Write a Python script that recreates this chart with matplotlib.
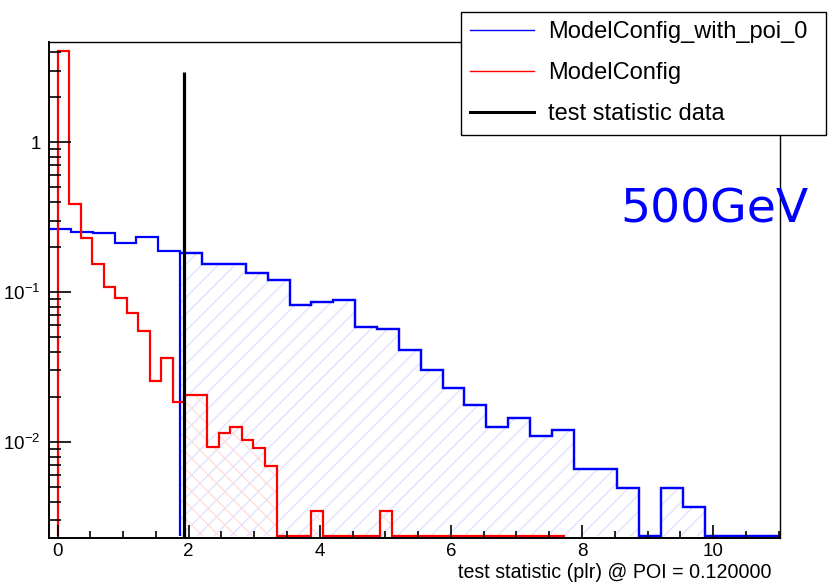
import numpy as np
import matplotlib
matplotlib.use("Agg")
import matplotlib.pyplot as plt
from matplotlib.lines import Line2D
from matplotlib.ticker import LogLocator, NullFormatter, MultipleLocator

plt.rcParams['font.family'] = ['Liberation Sans', 'DejaVu Sans']
plt.rcParams['mathtext.fontset'] = 'custom'
plt.rcParams['mathtext.rm'] = 'Liberation Sans'
plt.rcParams['mathtext.it'] = 'Liberation Sans:italic'
plt.rcParams['mathtext.bf'] = 'Liberation Sans:bold'
plt.rcParams['hatch.linewidth'] = 1.0

# sampling distribution under the alternate (poi = 0) model
alt_start, alt_width = -0.13, 0.3335
alt_counts = [0.262, 0.253, 0.249, 0.212, 0.234, 0.188, 0.183, 0.155, 0.155,
              0.135, 0.120, 0.0826, 0.086, 0.0892, 0.0585, 0.0567, 0.0408,
              0.0303, 0.0231, 0.0177, 0.0126, 0.0144, 0.0109, 0.0121, 0.0066,
              0.0066, 0.0049, 0, 0.0049, 0.0037, 0, 0, 0, 0]

# sampling distribution under the null model
null_start, null_width = 0.0, 0.1758
null_counts = [4.07, 0.39, 0.229, 0.153, 0.108, 0.0915, 0.0726, 0.0547, 0.0255,
               0.0366, 0.0184, 0.0206, 0.0206, 0.00927, 0.0114, 0.0125, 0.0103,
               0.00918, 0.0069, 0, 0, 0, 0.00344, 0, 0, 0, 0, 0, 0.00344,
               0, 0, 0, 0, 0, 0, 0, 0, 0, 0, 0, 0, 0, 0, 0]

# observed test statistic
data_value = 1.93
data_height = 2.95

labels = ['ModelConfig_with_poi_0', 'ModelConfig', 'test statistic data']
x_label = 'test statistic (plr) @ POI = 0.120000'
mass_label = '500GeV'

ymin, ymax = 0.0023, 4.66
floor = 0.00236  # empty bins are drawn along the bottom of the frame

alt = np.maximum(np.array(alt_counts), floor)
alt_edges = alt_start + alt_width * np.arange(len(alt_counts) + 1)
null = np.maximum(np.array(null_counts), floor)
null_edges = null_start + null_width * np.arange(len(null_counts) + 1)

# first bins inside the p-value regions
alt_cut = np.searchsorted(alt_edges, data_value) - 1
null_cut = np.searchsorted(null_edges, data_value)

fig = plt.figure(figsize=(8.31, 5.86), dpi=100)
ax = fig.add_axes([49 / 831, 48.3 / 586, 731 / 831, 495.7 / 586])

ax.stairs(alt[alt_cut:], alt_edges[alt_cut:], baseline=floor, fill=True,
          hatch='//', facecolor='none', edgecolor='#e2e2ff', linewidth=0)
ax.stairs(null[null_cut:], null_edges[null_cut:], baseline=floor, fill=True,
          hatch='\\\\', facecolor='none', edgecolor='#ffdede', linewidth=0)

ax.stairs(alt, alt_edges, baseline=None, color='blue', linewidth=1.6)
ax.stairs(alt[alt_cut:], alt_edges[alt_cut:], baseline=floor, color='blue',
          linewidth=1.6)
ax.stairs(null, null_edges, baseline=floor, color='red', linewidth=1.6)
ax.vlines(data_value, ymin, data_height, color='black', linewidth=2.3)

ax.set_yscale('log')
ax.set_xlim(-0.13, 11.02)
ax.set_ylim(ymin, ymax)

ax.set_yticks([0.01, 0.1, 1])
ax.set_yticklabels(['$10^{-2}$', '$10^{-1}$', '1'])
ax.yaxis.set_minor_locator(LogLocator(base=10, subs=np.arange(2, 10)))
ax.yaxis.set_minor_formatter(NullFormatter())
ax.set_xticks(np.arange(0, 11, 2))
ax.xaxis.set_minor_locator(MultipleLocator(0.5))

ax.tick_params(axis='both', which='both', direction='in', width=1.2,
               labelsize=13.5, top=False, right=False)
ax.tick_params(axis='y', which='major', length=15.8, pad=6)
ax.tick_params(axis='y', which='minor', length=8.6)
ax.tick_params(axis='x', which='major', length=9.4, pad=4)
ax.tick_params(axis='x', which='minor', length=5)

for side in ['left', 'bottom']:
    ax.spines[side].set_linewidth(1.4)
for side in ['top', 'right']:
    ax.spines[side].set_linewidth(1.0)

fig.text(771.7 / 831, 1 - 572 / 586, x_label, ha='right', va='center',
         fontsize=14.1)
fig.text(620 / 831, 1 - 222.7 / 586, mass_label, ha='left', va='baseline',
         fontsize=34, color='blue', family='DejaVu Sans')

handles = [Line2D([], [], color='blue', linewidth=1.0),
           Line2D([], [], color='red', linewidth=1.0),
           Line2D([], [], color='black', linewidth=2.2)]
leg = fig.legend(handles, labels, loc='upper left',
                 bbox_to_anchor=(461 / 831, 1 - 134 / 586, 365 / 831, 122 / 586),
                 bbox_transform=fig.transFigure, mode='expand', borderaxespad=0,
                 fontsize=17, fancybox=False, framealpha=1, borderpad=0.4,
                 labelspacing=0.8, handlelength=2.7, handletextpad=0.58)
leg.get_frame().set_edgecolor('black')
leg.get_frame().set_linewidth(1.0)

fig.savefig('out.png', dpi=100)
